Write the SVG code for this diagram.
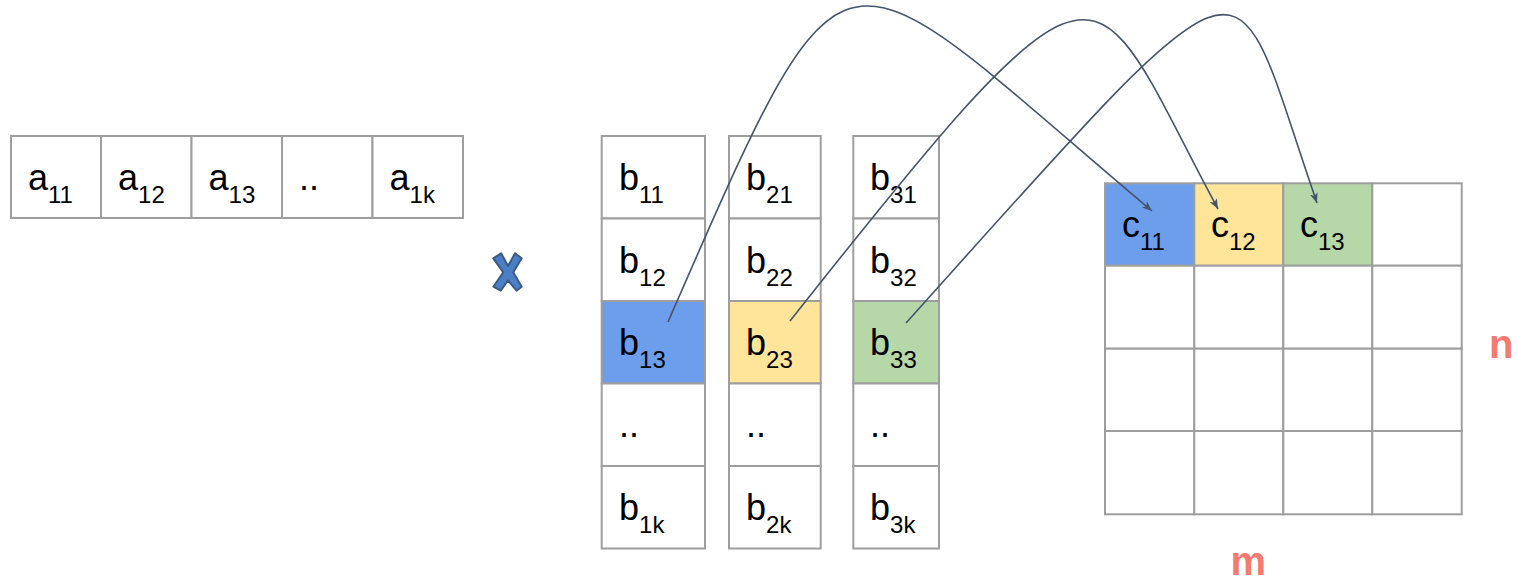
<svg xmlns="http://www.w3.org/2000/svg" width="1518" height="580" viewBox="0 0 1518 580">
<style>
.cell{fill:#ffffff;stroke:#9e9e9e;stroke-width:2}
.blue{fill:#6d9eeb}
.yellow{fill:#ffe599}
.green{fill:#b6d7a8}
.t{font-family:"Liberation Sans",Arial,sans-serif;font-size:36px;fill:#000000}
.s{font-size:24px}
.dim{font-family:"Liberation Sans",Arial,sans-serif;font-size:40px;font-weight:bold;fill:#f57b70}
.conn{fill:none;stroke:#44546a;stroke-width:1.6}
</style>
<defs>
<marker id="arr" markerUnits="userSpaceOnUse" markerWidth="12" markerHeight="10" refX="10" refY="4" orient="auto">
<path d="M0,0 L10,4 L0,8 L2.5,4 z" fill="#44546a"/>
</marker>
</defs>
<rect width="1518" height="580" fill="#ffffff"/>

<g id="vector-a">
<g id="a11"><rect class="cell" x="11" y="136" width="90" height="82"/><text class="t" x="28" y="190">a<tspan class="s" dy="13">11</tspan></text></g>
<g id="a12"><rect class="cell" x="101" y="136" width="90.5" height="82"/><text class="t" x="118" y="190">a<tspan class="s" dy="13">12</tspan></text></g>
<g id="a13"><rect class="cell" x="191.5" y="136" width="90.5" height="82"/><text class="t" x="208.5" y="190">a<tspan class="s" dy="13">13</tspan></text></g>
<g id="a1dots"><rect class="cell" x="282" y="136" width="90.5" height="82"/><text class="t" x="299" y="190">..</text></g>
<g id="a1k"><rect class="cell" x="372.5" y="136" width="90.5" height="82"/><text class="t" x="389.5" y="190">a<tspan class="s" dy="13">1k</tspan></text></g>
</g>

<g id="times">
<polygon points="493.3,258.3 501.2,253.3 508,266 515,253.3 521.7,258.3 513.3,272.3 521.7,286.7 516.5,290.7 508,280.5 500.7,290.7 493.3,286.7 503.3,272.3" fill="#4a7fc5" stroke="#3d5b82" stroke-width="2" stroke-linejoin="round"/>
</g>

<g id="col-b1">
<g id="b11"><rect class="cell" x="601.7" y="136" width="103.3" height="82.5"/><text class="t" x="619" y="190">b<tspan class="s" dy="13">11</tspan></text></g>
<g id="b12"><rect class="cell" x="601.7" y="218.5" width="103.3" height="82.5"/><text class="t" x="619" y="272.5">b<tspan class="s" dy="13">12</tspan></text></g>
<g id="b13"><rect class="cell blue" x="601.7" y="301" width="103.3" height="82.5"/><text class="t" x="619" y="355">b<tspan class="s" dy="13">13</tspan></text></g>
<g id="b1dots"><rect class="cell" x="601.7" y="383.5" width="103.3" height="82.5"/><text class="t" x="619" y="437">..</text></g>
<g id="b1k"><rect class="cell" x="601.7" y="466" width="103.3" height="82.5"/><text class="t" x="619" y="520">b<tspan class="s" dy="13">1k</tspan></text></g>
</g>

<g id="col-b2">
<g id="b21"><rect class="cell" x="729" y="136" width="91.7" height="82.5"/><text class="t" x="746" y="190">b<tspan class="s" dy="13">21</tspan></text></g>
<g id="b22"><rect class="cell" x="729" y="218.5" width="91.7" height="82.5"/><text class="t" x="746" y="272.5">b<tspan class="s" dy="13">22</tspan></text></g>
<g id="b23"><rect class="cell yellow" x="729" y="301" width="91.7" height="82.5"/><text class="t" x="746" y="355">b<tspan class="s" dy="13">23</tspan></text></g>
<g id="b2dots"><rect class="cell" x="729" y="383.5" width="91.7" height="82.5"/><text class="t" x="746" y="437">..</text></g>
<g id="b2k"><rect class="cell" x="729" y="466" width="91.7" height="82.5"/><text class="t" x="746" y="520">b<tspan class="s" dy="13">2k</tspan></text></g>
</g>

<g id="col-b3">
<g id="b31"><rect class="cell" x="853.3" y="136" width="85.7" height="82.5"/><text class="t" x="870" y="190">b<tspan class="s" dy="13">31</tspan></text></g>
<g id="b32"><rect class="cell" x="853.3" y="218.5" width="85.7" height="82.5"/><text class="t" x="870" y="272.5">b<tspan class="s" dy="13">32</tspan></text></g>
<g id="b33"><rect class="cell green" x="853.3" y="301" width="85.7" height="82.5"/><text class="t" x="870" y="355">b<tspan class="s" dy="13">33</tspan></text></g>
<g id="b3dots"><rect class="cell" x="853.3" y="383.5" width="85.7" height="82.5"/><text class="t" x="870" y="437">..</text></g>
<g id="b3k"><rect class="cell" x="853.3" y="466" width="85.7" height="82.5"/><text class="t" x="870" y="520">b<tspan class="s" dy="13">3k</tspan></text></g>
</g>

<g id="matrix-c">
<g id="c11"><rect class="cell blue" x="1105" y="183.3" width="89.3" height="82.4"/><text class="t" x="1122" y="237">c<tspan class="s" dy="13">11</tspan></text></g>
<g id="c12"><rect class="cell yellow" x="1194.3" y="183.3" width="89" height="82.4"/><text class="t" x="1211" y="237">c<tspan class="s" dy="13">12</tspan></text></g>
<g id="c13"><rect class="cell green" x="1283.3" y="183.3" width="89" height="82.4"/><text class="t" x="1300" y="237">c<tspan class="s" dy="13">13</tspan></text></g>
<g id="c14"><rect class="cell" x="1372.3" y="183.3" width="89.4" height="82.4"/></g>
<g id="c-rest">
<rect class="cell" x="1105" y="265.7" width="89.3" height="83"/>
<rect class="cell" x="1194.3" y="265.7" width="89" height="83"/>
<rect class="cell" x="1283.3" y="265.7" width="89" height="83"/>
<rect class="cell" x="1372.3" y="265.7" width="89.4" height="83"/>
<rect class="cell" x="1105" y="348.7" width="89.3" height="82.3"/>
<rect class="cell" x="1194.3" y="348.7" width="89" height="82.3"/>
<rect class="cell" x="1283.3" y="348.7" width="89" height="82.3"/>
<rect class="cell" x="1372.3" y="348.7" width="89.4" height="82.3"/>
<rect class="cell" x="1105" y="431" width="89.3" height="83.3"/>
<rect class="cell" x="1194.3" y="431" width="89" height="83.3"/>
<rect class="cell" x="1283.3" y="431" width="89" height="83.3"/>
<rect class="cell" x="1372.3" y="431" width="89.4" height="83.3"/>
</g>
</g>

<g id="label-n"><text class="dim" x="1489" y="358">n</text></g>
<g id="label-m"><text class="dim" x="1230.5" y="575">m</text></g>

<g id="connectors">
<path class="conn" d="M668,322 C852,-100 830,-60 1152,211" marker-end="url(#arr)"/>
<path class="conn" d="M790,321 C1114.7,-90 1087.6,-33 1218,209" marker-end="url(#arr)"/>
<path class="conn" d="M906,323 C1268,-80 1228,-53 1317,203" marker-end="url(#arr)"/>
</g>
</svg>
